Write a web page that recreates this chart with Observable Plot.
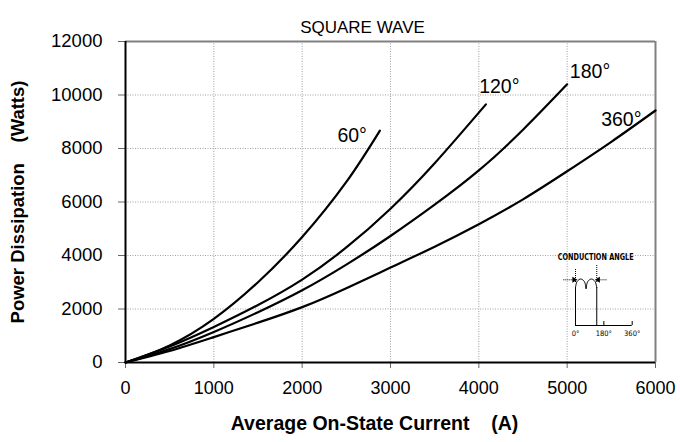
<!DOCTYPE html>
<html><head><meta charset="utf-8">
<script src="https://cdn.jsdelivr.net/npm/d3@7"></script>
<script src="https://cdn.jsdelivr.net/npm/@observablehq/plot@0.6"></script>
<style>
html,body{margin:0;padding:0;background:#fff;}
#wrap{position:relative;width:680px;height:442px;}
#inset{position:absolute;left:540px;top:245px;}
</style></head><body><div id="wrap"><div id="main"></div><div id="inset"></div></div>
<script>
// ---- data ----
const xTicks = [0, 1000, 2000, 3000, 4000, 5000, 6000];
const yTicks = [0, 2000, 4000, 6000, 8000, 10000, 12000];

const current60 = [0, 500, 1000, 1500, 2000, 2500, 2880];
const power60   = [0, 640, 1630, 3000, 4690, 6750, 8670];

const current120 = [0, 500, 1000, 1500, 2000, 2500, 3000, 3500, 4080];
const power120   = [0, 600, 1330, 2150, 3100, 4300, 5750, 7450, 9650];

const current180 = [0, 500, 1000, 1500, 2000, 2500, 3000, 3500, 4000, 4500, 5000];
const power180   = [0, 500, 1140, 1880, 2700, 3660, 4730, 5900, 7180, 8700, 10400];

const current360 = [0, 500, 1000, 1500, 2000, 2500, 3000, 3500, 4000, 4500, 5000, 5500, 6000];
const power360   = [0, 430, 950, 1490, 2070, 2780, 3550, 4330, 5170, 6100, 7150, 8250, 9420];

const seriesNames = ["60°", "120°", "180°", "360°"];
const labelCurrent = [2566, 4232, 5259, 5613];
const labelPower   = [8485, 10325, 10851, 9083];

const titleText = "SQUARE WAVE";
const xLabel = "Average On-State Current\u00a0\u00a0\u00a0 (A)";
const yLabel = "Power Dissipation\u00a0\u00a0\u00a0 (Watts)";

// inset schematic (x in electrical degrees)
const insetTicks = [0, 180, 360];
const insetTitle = "CONDUCTION ANGLE";
const conduction = 135;
const arch1Deg = [0, 10, 33, 56, 67];
const arch1Val = [38, 44, 46.5, 44, 37];
const arch2Deg = [67, 78, 101, 124, 135];
const arch2Val = [37, 44, 46.5, 44, 38];

// ---- build tables ----
const allCurrents = [current60, current120, current180, current360];
const allPowers = [power60, power120, power180, power360];
const rows = [];
seriesNames.forEach((name, k) => allCurrents[k].forEach((c, i) => rows.push({name, current: c, power: allPowers[k][i]})));
const labels = seriesNames.map((name, k) => ({name, current: labelCurrent[k], power: labelPower[k]}));

const font = "'Liberation Sans', Arial, Helvetica, sans-serif";
const gridStyle = {stroke: "#8a8a8a", strokeOpacity: 1, strokeDasharray: "1,1.5", strokeWidth: 0.8};
const fmt = d3.format("d");

const chart = Plot.plot({
  width: 680, height: 442,
  marginTop: 41, marginBottom: 80, marginLeft: 125, marginRight: 25,
  x: {domain: [0, 6000]},
  y: {domain: [0, 12000]},
  style: {fontFamily: font, background: "#fff", color: "#000", overflow: "visible"},
  marks: [
    Plot.gridX(xTicks.slice(1, -1), gridStyle),
    Plot.gridY(yTicks.slice(1, -1), gridStyle),
    Plot.ruleY([12000], {stroke: "#808080", strokeWidth: 2}),
    Plot.ruleX([6000], {stroke: "#808080", strokeWidth: 2}),
    Plot.axisX(xTicks, {tickSize: 6, tickPadding: 13, fontSize: 18, label: null, tickFormat: fmt, stroke: "#666", fill: "#000"}),
    Plot.axisY(yTicks, {tickSize: 7, tickPadding: 16, fontSize: 18.5, label: null, tickFormat: fmt, stroke: "#666", fill: "#000"}),
    Plot.ruleX([0], {stroke: "#000", strokeWidth: 2}),
    Plot.ruleY([0], {stroke: "#000", strokeWidth: 2}),
    Plot.line(rows, {x: "current", y: "power", z: "name", stroke: "#000", strokeWidth: 2.2, curve: "natural"}),
    Plot.text(labels, {x: "current", y: "power", text: "name", fontSize: 19.5, fill: "#000"}),
    Plot.text([titleText], {frameAnchor: "top", dx: -28, dy: -21, fontSize: 17, fill: "#000"}),
    Plot.text([xLabel], {frameAnchor: "bottom", dx: -16, dy: 61, fontSize: 19.5, fontWeight: "bold", fill: "#000", lineAnchor: "middle"}),
    Plot.text([yLabel], {frameAnchor: "left", textAnchor: "middle", dx: -107, rotate: -90, fontSize: 18.5, fontWeight: "bold", fill: "#000"})
  ]
});
document.getElementById("main").appendChild(chart);

// ---- inset ----
const narrow = "'Liberation Sans Narrow', 'DejaVu Sans Condensed', 'Arial Narrow', sans-serif";
const insetRows = [];
arch1Deg.forEach((d, i) => insetRows.push({k: "a", deg: d, v: arch1Val[i]}));
arch2Deg.forEach((d, i) => insetRows.push({k: "b", deg: d, v: arch2Val[i]}));
const inset = Plot.plot({
  width: 100, height: 100,
  marginTop: 10, marginBottom: 20, marginLeft: 35, marginRight: 8.3,
  x: {domain: [0, 360], axis: null},
  y: {domain: [0, 70], axis: null},
  style: {fontFamily: narrow, background: "transparent", color: "#000", overflow: "visible"},
  marks: [
    Plot.rect([insetTitle], {x1: -45, x2: 170, y1: 63, y2: 74, fill: "#fff"}),
    Plot.text([insetTitle], {x: 128, y: 68.3, fontSize: 9.5, fontWeight: "bold", fill: "#000", fontFamily: narrow, className: "ctitle"}),
    Plot.ruleY([0], {x1: 0, x2: 360, stroke: "#000", strokeWidth: 1.2}),
    Plot.ruleX([180, 360], {y1: 0, y2: 4, stroke: "#000", strokeWidth: 1}),
    Plot.ruleX([0], {y1: 0, y2: 38, stroke: "#000", strokeWidth: 1}),
    Plot.ruleX([conduction], {y1: 0, y2: 38, stroke: "#000", strokeWidth: 1}),
    Plot.line(insetRows, {x: "deg", y: "v", z: "k", stroke: "#000", strokeWidth: 1, curve: "catmull-rom"}),
    Plot.ruleX([0], {y1: 43, y2: 57, stroke: "#000", strokeWidth: 1, strokeDasharray: "1,1"}),
    Plot.ruleX([conduction], {y1: 43, y2: 61, stroke: "#000", strokeWidth: 1, strokeDasharray: "1,1"}),
    Plot.ruleY([45.7], {x1: -74, x2: -8, stroke: "#000", strokeWidth: 1, strokeDasharray: "1,1"}),
    Plot.ruleY([45.7], {x1: conduction + 8, x2: 205, stroke: "#000", strokeWidth: 1, strokeDasharray: "1,1"}),
    Plot.dot([0], {x: d => -9, y: 45.7, symbol: "triangle", r: 2.2, fill: "#000", rotate: 90}),
    Plot.dot([0], {x: d => conduction + 9, y: 45.7, symbol: "triangle", r: 2.2, fill: "#000", rotate: -90}),
    Plot.axisX(insetTicks, {tickSize: 0, tickPadding: 5, fontSize: 7.5, tickFormat: d => d + "°", label: null, fontFamily: narrow})
  ]
});
document.getElementById("inset").appendChild(inset);
inset.querySelectorAll(".ctitle text").forEach(t => {
  t.setAttribute("textLength", "76");
  t.setAttribute("lengthAdjust", "spacingAndGlyphs");
});
</script></body></html>
